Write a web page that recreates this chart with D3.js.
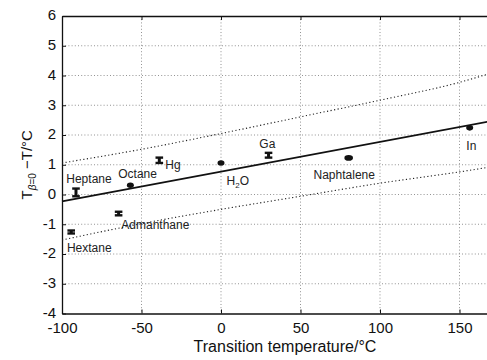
<!DOCTYPE html>
<html>
<head>
<meta charset="utf-8">
<script src="https://cdn.jsdelivr.net/npm/d3@7"></script>
<style>
  body { margin: 0; background: #fff; }
  svg { display: block; font-family: "Liberation Sans", Arial, sans-serif; }
</style>
</head>
<body>
<svg id="chart" width="487" height="360"></svg>
<script>
// measured points: transition temperature vs. deviation
const compounds = ["Hextane", "Heptane", "Admanthane", "Octane", "Hg", "H2O", "Ga", "Naphtalene", "In"];
const transitionT = [-94.2, -91.2, -64.4, -57, -38.8, 0, 29.9, 80.3, 156.4];
const deviation = [-1.26, 0.07, -0.64, 0.31, 1.15, 1.06, 1.32, 1.23, 2.24];
const deviationErr = [0.05, 0.13, 0.06, 0, 0.09, 0, 0.08, 0, 0];

// label anchors (data units)
const labelT = [-96.9, -97.3, -62.7, -64.6, -35.0, 3.5, 24.1, 58.2, 154.3];
const labelDev = [-1.94, 0.39, -1.15, 0.545, 0.87, 0.31, 1.55, 0.535, 1.49];

// regression line and prediction band
const fitT = [-100, 170];
const fitDev = [-0.23, 2.47];
const bandT = [-100, -50, 0, 50, 100, 150, 170];
const bandUpper = [1.06, 1.52, 2.05, 2.61, 3.17, 3.77, 4.08];
const bandLower = [-1.53, -0.98, -0.50, -0.06, 0.38, 0.76, 0.93];

// axes
const xTicks = [-100, -50, 0, 50, 100, 150];
const yTicks = [-4, -3, -2, -1, 0, 1, 2, 3, 4, 5, 6];

const svg = d3.select("#chart");
const plotLeft = 62, plotTop = 16, plotBottom = 313.5;

let x = d3.scaleLinear().domain([-100, 170]).range([plotLeft, plotLeft + 270 * 1.59]);
let y = d3.scaleLinear().domain([-4, 6]).range([plotBottom, plotTop]);
const plotRight = x(170);
// plain hyphen for negatives, like the original
const fmt = d => String(d);

// grid
svg.append("g").selectAll("line")
    .data(yTicks.filter(d => d > -4 && d < 6))
    .enter().append("line")
    .attr("x1", plotLeft).attr("x2", plotRight)
    .attr("y1", d => y(d)).attr("y2", d => y(d))
    .attr("stroke", "#777").attr("stroke-width", 0.8)
    .attr("stroke-dasharray", "1,2.2");
svg.append("g").selectAll("line")
    .data(xTicks.filter(d => d > -100))
    .enter().append("line")
    .attr("x1", d => x(d)).attr("x2", d => x(d))
    .attr("y1", plotTop).attr("y2", plotBottom)
    .attr("stroke", "#777").attr("stroke-width", 0.8)
    .attr("stroke-dasharray", "1,2.2");

// axes with inward ticks
svg.append("g")
    .attr("transform", `translate(0,${plotBottom})`)
    .call(d3.axisBottom(x).tickValues(xTicks).tickFormat(fmt)
        .tickSizeInner(-4).tickSizeOuter(0).tickPadding(10))
    .call(g => g.selectAll("text").attr("font-size", 15).attr("fill", "#111").attr("dy", "0.66em"));
svg.append("g")
    .attr("transform", `translate(0,${plotTop})`)
    .call(d3.axisTop(x).tickValues(xTicks).tickSizeInner(-4).tickSizeOuter(0).tickFormat(""));
svg.append("g")
    .attr("transform", `translate(${plotLeft},0)`)
    .call(d3.axisLeft(y).tickValues(yTicks).tickFormat(fmt)
        .tickSizeInner(-4).tickSizeOuter(0).tickPadding(6))
    .call(g => g.selectAll("text").attr("font-size", 15).attr("fill", "#111").attr("dy", "0.26em"));
svg.selectAll(".domain").attr("stroke", "#111").attr("stroke-width", 1.3);
svg.selectAll(".tick line").attr("stroke", "#111");

// prediction band
const bandLine = d3.line().curve(d3.curveMonotoneX);
[bandUpper, bandLower].forEach(vals => {
    svg.append("path")
        .attr("d", bandLine(bandT.map((t, i) => [x(t), y(vals[i])])))
        .attr("fill", "none")
        .attr("stroke", "#222").attr("stroke-width", 1.1)
        .attr("stroke-dasharray", "1.2,2.4");
});

// fit line
svg.append("path")
    .attr("d", d3.line()(fitT.map((t, i) => [x(t), y(fitDev[i])])))
    .attr("fill", "none").attr("stroke", "#111").attr("stroke-width", 1.6);

// points
const pts = svg.append("g");
compounds.forEach((c, i) => {
    let px = x(transitionT[i]), py = y(deviation[i]);
    if (deviationErr[i] > 0) {
        let y0 = y(deviation[i] + deviationErr[i]);
        let y1 = y(deviation[i] - deviationErr[i]);
        pts.append("line").attr("x1", px).attr("x2", px).attr("y1", y0).attr("y2", y1)
            .attr("stroke", "#111").attr("stroke-width", 3);
        [y0, y1].forEach(yy => pts.append("line")
            .attr("x1", px - 3.8).attr("x2", px + 3.8).attr("y1", yy).attr("y2", yy)
            .attr("stroke", "#111").attr("stroke-width", 2.4));
    } else {
        pts.append("ellipse").attr("cx", px).attr("cy", py)
            .attr("rx", c === "Naphtalene" ? 4.3 : 3.5).attr("ry", 2.8)
            .attr("fill", "#111");
    }
});

// labels
const labels = svg.append("g").attr("font-size", 12).attr("fill", "#222");
compounds.forEach((c, i) => {
    let t = labels.append("text").attr("x", x(labelT[i])).attr("y", y(labelDev[i]));
    if (c === "H2O") {
        t.append("tspan").text("H");
        t.append("tspan").attr("font-size", 8).attr("dy", 3).text("2");
        t.append("tspan").attr("dy", -3).text("O");
    } else t.text(c);
});

// axis titles
svg.append("text")
    .attr("x", 285).attr("y", 352)
    .attr("text-anchor", "middle").attr("font-size", 16).attr("fill", "#111")
    .text("Transition temperature/°C");

let yt = svg.append("text")
    .attr("transform", `translate(31.5,${(plotTop + plotBottom) / 2}) rotate(-90)`)
    .attr("text-anchor", "middle").attr("font-size", 15).attr("fill", "#111");
yt.append("tspan").text("T");
yt.append("tspan").attr("font-size", 10).attr("dy", 4).attr("font-style", "italic").text("β");
yt.append("tspan").attr("font-size", 10).text("=0");
yt.append("tspan").attr("dy", -4).text(" −T/°C");
</script>
</body>
</html>
